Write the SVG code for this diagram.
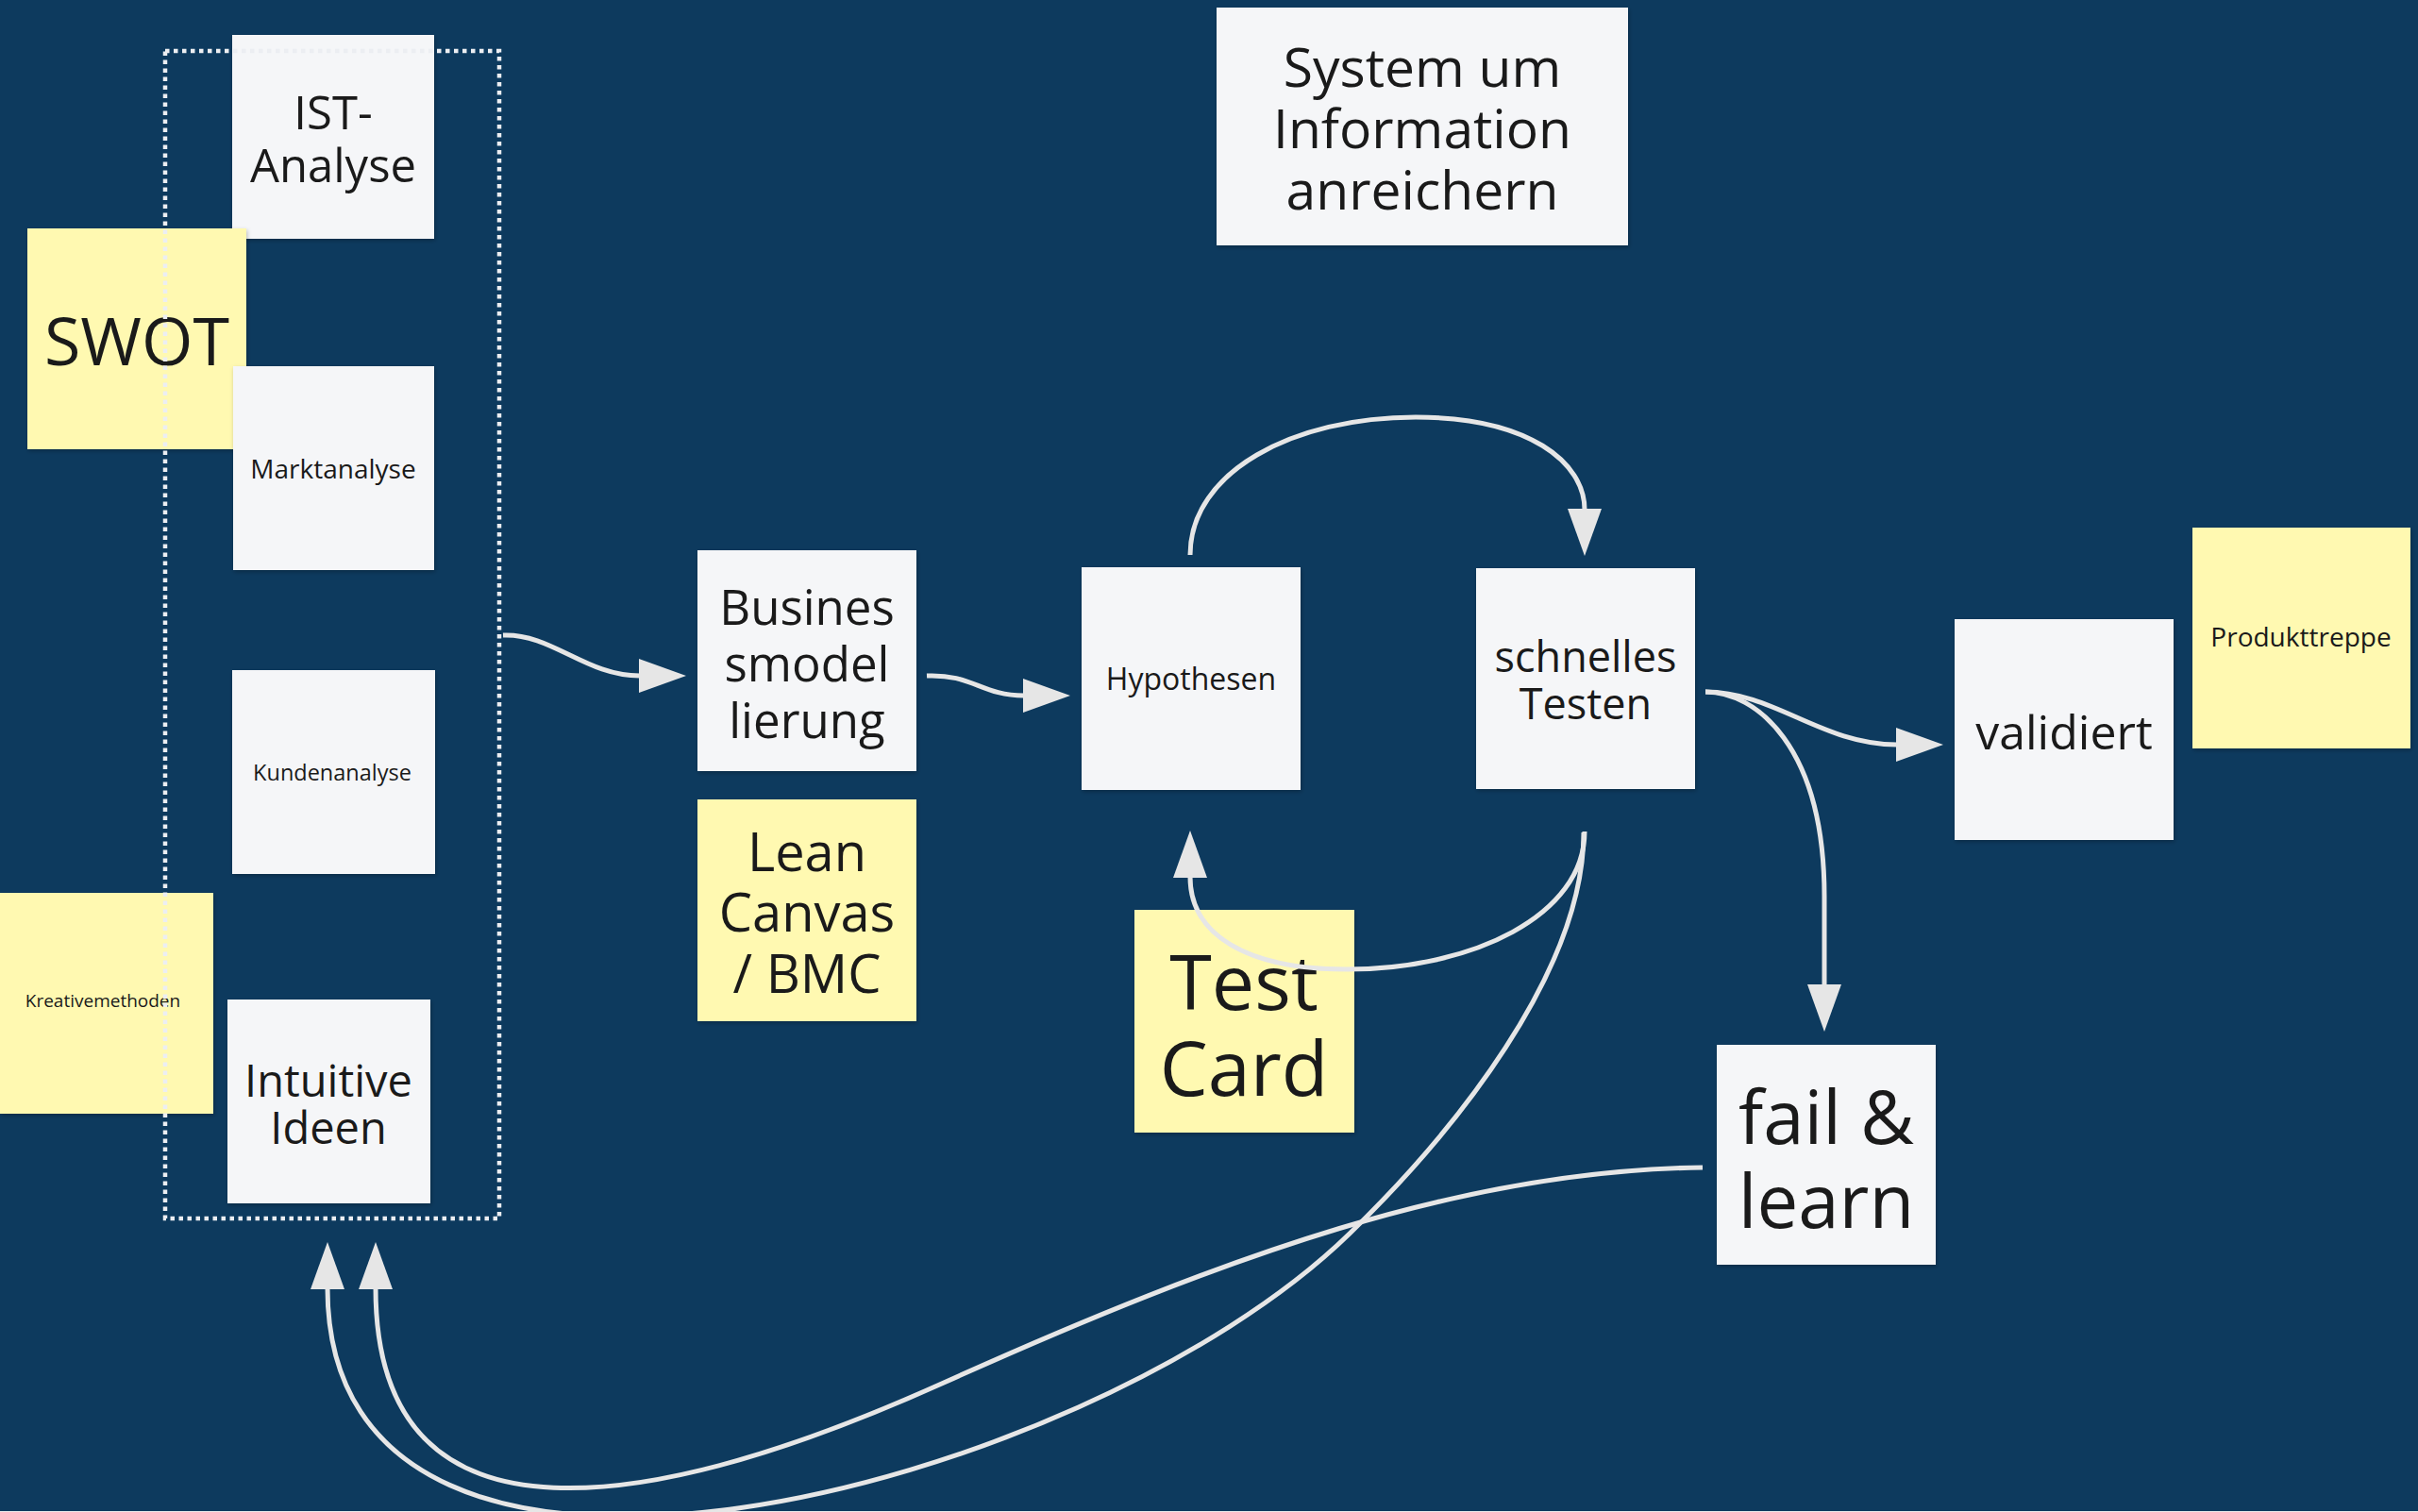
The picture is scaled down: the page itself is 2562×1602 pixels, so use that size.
<svg xmlns="http://www.w3.org/2000/svg" width="2562" height="1602" viewBox="0 0 2562 1602">
<defs>
<style>
.node{fill:#f5f6f8;filter:url(#sh)}
.sticky{fill:#fff9b1;filter:url(#sh)}
.t{font-family:"Open Sans","Noto Sans","Liberation Sans",sans-serif;fill:#1a1a1a;text-anchor:middle}
.c{fill:none;stroke:#e6e6e6;stroke-width:5}
.frame{fill:none;stroke:#eceef2;stroke-width:4.5;stroke-dasharray:4.5 4.5}
</style>
<filter id="sh" x="-5%" y="-5%" width="110%" height="115%">
<feDropShadow dx="1" dy="2" stdDeviation="2" flood-color="#000" flood-opacity="0.25"/>
</filter>
<marker id="ah" markerUnits="userSpaceOnUse" viewBox="0 0 50 36" markerWidth="50" markerHeight="36" refX="1" refY="18" orient="auto">
<path d="M0,0 L50,18 L0,36 Z" fill="#e6e6e6"/>
</marker>
</defs>
<rect x="0" y="0" width="2562" height="1602" fill="#0d3a5e"/>
<rect x="0" y="1601" width="2562" height="1" fill="#e8e8e8"/>

<g id="node-ist-analyse">
<rect class="node" x="246" y="37" width="214" height="216"/>
<text class="t" font-size="49"><tspan x="353" y="137">IST-</tspan><tspan x="353" y="193">Analyse</tspan></text>
</g>
<g id="node-swot">
<rect class="sticky" x="29" y="242" width="232" height="234"/>
<text class="t" font-size="70" x="145" y="387">SWOT</text>
</g>
<g id="node-marktanalyse">
<rect class="node" x="247" y="388" width="213" height="216"/>
<text class="t" font-size="28" x="353" y="507">Marktanalyse</text>
</g>
<g id="node-kundenanalyse">
<rect class="node" x="246" y="710" width="215" height="216"/>
<text class="t" font-size="23.5" x="352" y="827">Kundenanalyse</text>
</g>
<g id="node-kreativemethoden">
<rect class="sticky" x="0" y="946" width="226" height="234"/>
<text class="t" font-size="19" x="109" y="1067">Kreativemethoden</text>
</g>
<g id="node-intuitive-ideen">
<rect class="node" x="241" y="1059" width="215" height="216"/>
<text class="t" font-size="47"><tspan x="348" y="1162">Intuitive</tspan><tspan x="348" y="1212">Ideen</tspan></text>
</g>
<g id="node-businessmodellierung">
<rect class="node" x="739" y="583" width="232" height="234"/>
<text class="t" font-size="51"><tspan x="855" y="662">Busines</tspan><tspan x="855" y="722">smodel</tspan><tspan x="855" y="782">lierung</tspan></text>
</g>
<g id="node-lean-canvas">
<rect class="sticky" x="739" y="847" width="232" height="235"/>
<text class="t" font-size="56"><tspan x="855" y="923">Lean</tspan><tspan x="855" y="987">Canvas</tspan><tspan x="855" y="1052">/ BMC</tspan></text>
</g>
<g id="node-hypothesen">
<rect class="node" x="1146" y="601" width="232" height="236"/>
<text class="t" font-size="32" x="1262" y="731">Hypothesen</text>
</g>
<g id="node-schnelles-testen">
<rect class="node" x="1564" y="602" width="232" height="234"/>
<text class="t" font-size="45"><tspan x="1680" y="712">schnelles</tspan><tspan x="1680" y="762">Testen</tspan></text>
</g>
<g id="node-test-card">
<rect class="sticky" x="1202" y="964" width="233" height="236"/>
<text class="t" font-size="81"><tspan x="1318" y="1070">Test</tspan><tspan x="1318" y="1161">Card</tspan></text>
</g>
<g id="node-system">
<rect class="node" x="1289" y="8" width="436" height="252"/>
<text class="t" font-size="57"><tspan x="1507" y="92">System um</tspan><tspan x="1507" y="157">Information</tspan><tspan x="1507" y="222">anreichern</tspan></text>
</g>
<g id="node-validiert">
<rect class="node" x="2071" y="656" width="232" height="234"/>
<text class="t" font-size="50" x="2187" y="794">validiert</text>
</g>
<g id="node-produkttreppe">
<rect class="sticky" x="2323" y="559" width="231" height="234"/>
<text class="t" font-size="28" x="2438" y="685">Produkttreppe</text>
</g>
<g id="node-fail-learn">
<rect class="node" x="1819" y="1107" width="232" height="233"/>
<text class="t" font-size="78"><tspan x="1935" y="1212">fail &amp;</tspan><tspan x="1935" y="1301">learn</tspan></text>
</g>

<g id="group-frame">
<rect class="frame" x="175" y="54" width="354" height="1237"/>
</g>

<g id="connectors">
<path class="c" marker-end="url(#ah)" d="M533,673 C585,671 620,716 678,716"/>
<path class="c" marker-end="url(#ah)" d="M982,716 C1030,714 1040,737 1085,737"/>
<path class="c" marker-end="url(#ah)" d="M1261,588 C1261,500 1370,442 1500,442 C1620,442 1679,490 1679,540"/>
<path class="c" marker-end="url(#ah)" d="M1679,881 C1679,970 1560,1027 1427,1027 C1320,1027 1261,990 1261,929"/>
<path class="c" marker-end="url(#ah)" d="M1807,733 C1880,733 1930,789 2010,789"/>
<path class="c" marker-end="url(#ah)" d="M1807,733 C1860,733 1933,790 1933,950 L1933,1044"/>
<path class="c" marker-end="url(#ah)" d="M1804,1237 C1550,1240 1300,1330 1000,1465 C700,1600 398,1660 398,1365"/>
<path class="c" marker-end="url(#ah)" d="M1678,882 C1678,1030 1540,1200 1430,1307 C1150,1580 347,1790 347,1365"/>
</g>
</svg>
